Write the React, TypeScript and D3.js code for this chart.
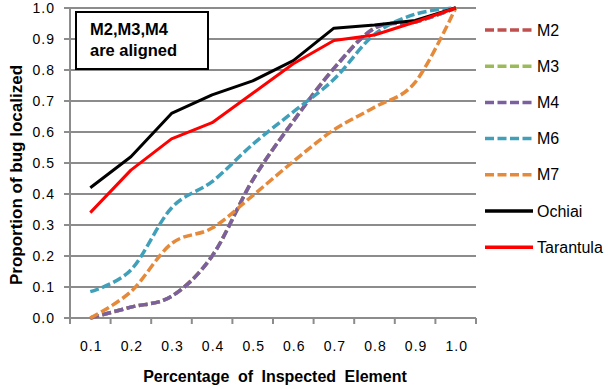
import React from 'react';
import * as d3 from 'd3';

const width = 608;
const height = 389;
const margin = { top: 8, right: 132, bottom: 71, left: 70 };

const categories = ['0.1', '0.2', '0.3', '0.4', '0.5', '0.6', '0.7', '0.8', '0.9', '1.0'];
const yTicks = [0, 0.1, 0.2, 0.3, 0.4, 0.5, 0.6, 0.7, 0.8, 0.9, 1.0];

const m2 = [0.0, 0.035, 0.07, 0.2, 0.445, 0.635, 0.805, 0.935, 0.955, 1.0];
const m3 = [0.0, 0.035, 0.07, 0.2, 0.445, 0.635, 0.805, 0.935, 0.955, 1.0];
const m4 = [0.0, 0.035, 0.07, 0.2, 0.445, 0.635, 0.805, 0.935, 0.955, 1.0];
const m6 = [0.085, 0.155, 0.355, 0.44, 0.56, 0.665, 0.77, 0.915, 0.98, 1.0];
const m7 = [0.0, 0.085, 0.24, 0.29, 0.395, 0.505, 0.607, 0.68, 0.76, 1.0];
const ochiai = [0.42, 0.52, 0.66, 0.72, 0.765, 0.83, 0.935, 0.945, 0.96, 1.0];
const tarantula = [0.34, 0.477, 0.578, 0.63, 0.725, 0.82, 0.895, 0.913, 0.955, 1.0];

const series = [
	{ name: 'M2', values: m2, color: '#c0504d', dashed: true },
	{ name: 'M3', values: m3, color: '#9bbb59', dashed: true },
	{ name: 'M4', values: m4, color: '#7b5f9e', dashed: true },
	{ name: 'M6', values: m6, color: '#41a0b9', dashed: true },
	{ name: 'M7', values: m7, color: '#e5893a', dashed: true },
	{ name: 'Ochiai', values: ochiai, color: '#000000', dashed: false },
	{ name: 'Tarantula', values: tarantula, color: '#ff0000', dashed: false }
];

const gridColor = '#8c8c8c';
const font = '"Liberation Sans", Arial, sans-serif';
const dash = '9,3.5';

export default function App() {
	const x = d3
		.scaleBand()
		.domain(categories)
		.range([margin.left, width - margin.right])
		.padding(0);

	const y = d3
		.scaleLinear()
		.domain([0, 1])
		.range([height - margin.bottom, margin.top]);

	const cx = (c: string) => (x(c) as number) + x.bandwidth() / 2;

	// the M* series are smoothed, the two baselines are plain polylines
	const smooth = d3
		.line<number>()
		.x((d, i) => cx(categories[i]))
		.y(d => y(d))
		.curve(d3.curveCardinal.tension(0));

	const straight = d3
		.line<number>()
		.x((d, i) => cx(categories[i]))
		.y(d => y(d));

	const bottom = y(0);
	const boundaries = categories.map(c => x(c) as number).concat([width - margin.right]);

	const legendX = 485;
	const legendY = 30;
	const legendStep = 36.2;

	return (
		<div style={{ position: 'fixed', left: 0, top: 0 }}>
			<svg width={width} height={height} style={{ display: 'block', background: '#fff' }}>
				{yTicks.map(t => (
					<g key={t}>
						<line
							x1={margin.left - 6}
							x2={width - margin.right}
							y1={y(t)}
							y2={y(t)}
							stroke={gridColor}
							strokeWidth={2}
						/>
						<text
							x={55}
							y={y(t)}
							dy="0.35em"
							textAnchor="end"
							fontFamily={font}
							fontSize={14}
							letterSpacing={1}
							fill="#000"
						>
							{t.toFixed(1)}
						</text>
					</g>
				))}
				<line
					x1={margin.left}
					x2={margin.left}
					y1={margin.top}
					y2={bottom}
					stroke={gridColor}
					strokeWidth={2}
				/>
				{boundaries.map((b, i) => (
					<line key={i} x1={b} x2={b} y1={bottom} y2={bottom + 6} stroke={gridColor} strokeWidth={2} />
				))}
				{categories.map(c => (
					<text
						key={c}
						x={cx(c) + 1}
						y={351}
						textAnchor="middle"
						fontFamily={font}
						fontSize={14}
						letterSpacing={1}
						fill="#000"
					>
						{c}
					</text>
				))}

				{series.map(s => (
					<path
						key={s.name}
						d={(s.dashed ? smooth : straight)(s.values) as string}
						fill="none"
						stroke={s.color}
						strokeWidth={s.dashed ? 3.5 : 3}
						strokeDasharray={s.dashed ? dash : undefined}
						strokeLinejoin="round"
					/>
				))}

				<rect x={76} y={12} width={132} height={57} fill="#fff" stroke="#000" strokeWidth={2} />
				<text fontFamily={font} fontWeight="bold" fontSize={16.5} fill="#000">
					<tspan x={90} y={35}>M2,M3,M4</tspan>
					<tspan x={90} y={56}>are aligned</tspan>
				</text>

				{series.map((s, i) => (
					<g key={s.name} transform={`translate(${legendX}, ${legendY + i * legendStep})`}>
						<line
							x1={0}
							x2={48}
							y1={0}
							y2={0}
							stroke={s.color}
							strokeWidth={3.5}
							strokeDasharray={s.dashed ? dash : undefined}
						/>
						<text x={52} y={0} dy="0.35em" fontFamily={font} fontSize={16} fill="#000">
							{s.name}
						</text>
					</g>
				))}

				<text
					x={275}
					y={382}
					textAnchor="middle"
					fontFamily={font}
					fontWeight="bold"
					fontSize={16}
					wordSpacing={4}
					fill="#000"
				>
					Percentage of Inspected Element
				</text>
				<text
					transform={`translate(22, 175) rotate(-90)`}
					textAnchor="middle"
					fontFamily={font}
					fontWeight="bold"
					fontSize={17}
					fill="#000"
				>
					Proportion of bug localized
				</text>
			</svg>
		</div>
	);
}
